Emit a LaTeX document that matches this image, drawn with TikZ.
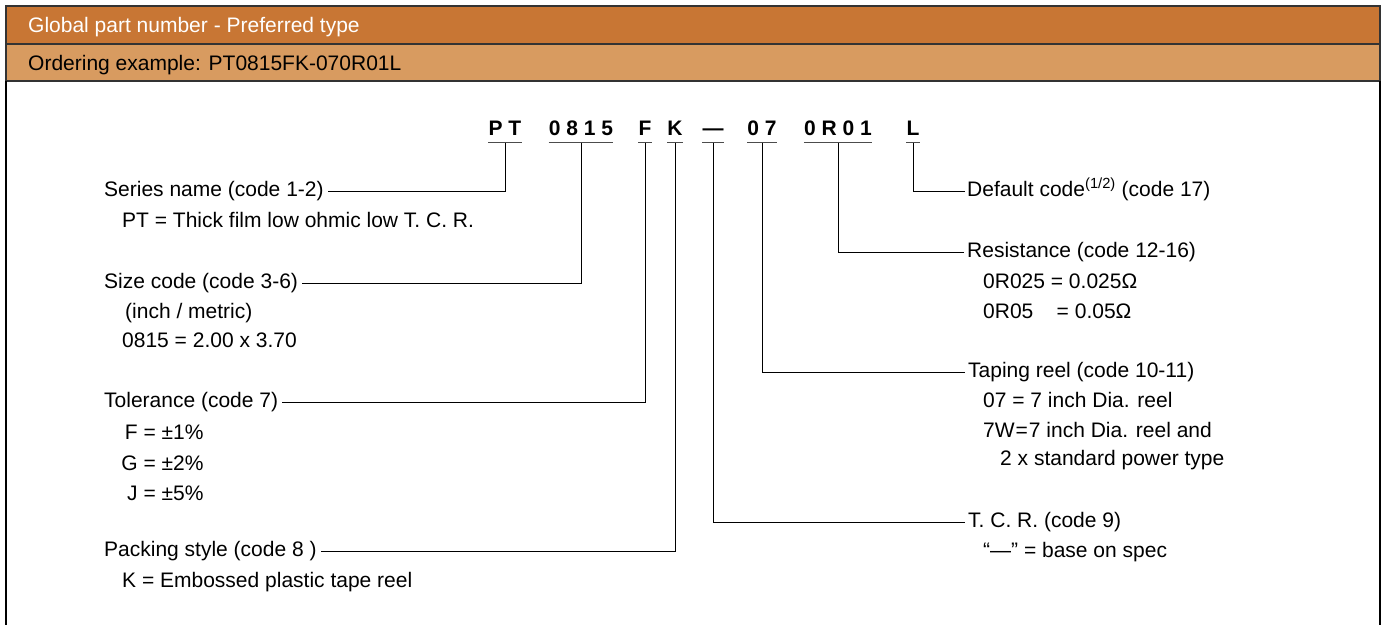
\documentclass[tikz,border=0pt]{standalone}
\usepackage{fontspec}
\setmainfont{Liberation Sans}
\definecolor{hdrdark}{HTML}{C87634}
\definecolor{hdrlight}{HTML}{D89B60}
\definecolor{frame}{HTML}{333333}
\begin{document}
\begin{tikzpicture}[x=1pt,y=-1pt,
  font=\fontsize{21}{25}\selectfont,
  lbl/.style={anchor=base west, inner sep=0pt},
  codebox/.style={anchor=base, inner sep=0pt, font=\fontsize{21}{25}\selectfont\bfseries},
  conn/.style={line width=1pt, draw=black},
  uline/.style={line width=1.3pt, draw=black!70},
  hdrline/.style={line width=1.3pt, draw=frame}
]
\useasboundingbox (0,0) rectangle (1383,624);
% header
\fill[hdrdark] (6,6) rectangle (1380,44);
\fill[hdrlight] (6,44) rectangle (1380,81);
\draw[hdrline] (6,6) rectangle (1380,44);
\draw[hdrline] (6,44) rectangle (1380,81);
\draw[line width=1.3pt] (6,81) -- (6,630);
\draw[line width=1.3pt] (1380,81) -- (1380,630);
\node[lbl, text=white] (title) at (28,32.5) {Global part number - Preferred type};
\node[lbl] (example) at (28,70.5) {Ordering example: PT0815FK-070R01L};

% code groups
\node[codebox] (cPT) at (505,135) {P T};
\node[codebox] (cSize) at (581,135) {0 8 1 5};
\node[codebox] (cF) at (645,135) {F};
\node[codebox] (cK) at (675,135) {K};
\node[codebox] (cT) at (713,135) {—};
\node[codebox] (cReel) at (762,135) {0 7};
\node[codebox] (cRes) at (838,135) {0 R 0 1};
\node[codebox] (cL) at (913,135) {L};
\foreach \c in {cPT,cSize,cF,cK,cT,cReel,cRes,cL}{
  \draw[uline] ([yshift=-7.5pt]\c.base west) -- ([yshift=-7.5pt]\c.base east);
}

% left labels
\node[lbl] (series) at (104,196.5) {Series name (code 1-2)};
\node[lbl] (seriesA) at (122,227.5) {PT = Thick film low ohmic low T. C. R.};
\node[lbl] (size) at (104,288.5) {Size code (code 3-6)};
\node[lbl] (sizeA) at (125,318.5) {(inch / metric)};
\node[lbl] (sizeB) at (122,347.5) {0815 = 2.00 x 3.70};
\node[lbl] (tol) at (104,407.5) {Tolerance (code 7)};
\node[lbl] (tolF) at (121,439.5) {\makebox[16.5pt][r]{F} = ±1\%};
\node[lbl] (tolG) at (121,470.5) {\makebox[16.5pt][r]{G} = ±2\%};
\node[lbl] (tolJ) at (121,500.5) {\makebox[16.5pt][r]{J} = ±5\%};
\node[lbl] (pack) at (104,556.5) {Packing style (code 8 )};
\node[lbl] (packA) at (122,587.5) {K = Embossed plastic tape reel};

% right labels
\node[lbl] (deflt) at (967,196.5) {Default code\textsuperscript{(1/2)} (code 17)};
\node[lbl] (res) at (967,257.5) {Resistance (code 12-16)};
\node[lbl] (resA) at (983,288.5) {0R025 = 0.025Ω};
\node[lbl] (resB) at (983,318.5) {0R05\hphantom{0}\ \ = 0.05Ω};
\node[lbl] (reel) at (968,377.5) {Taping reel (code 10-11)};
\node[lbl] (reelA) at (983,407.5) {07 = 7 inch Dia. reel};
\node[lbl] (reelB) at (983,437.5) {7W\kern1pt=\kern1pt7 inch Dia. reel and};
\node[lbl] (reelC) at (1000,465.5) {2 x standard power type};
\node[lbl] (tcr) at (968,527.5) {T. C. R. (code 9)};
\node[lbl] (tcrA) at (983,557.5) {“—” = base on spec};

% connectors
\draw[conn] ([yshift=-7.5pt]cPT.base) |- ([xshift=4pt,yshift=2pt]series.mid east);
\draw[conn] ([yshift=-7.5pt]cSize.base) |- ([xshift=4pt,yshift=2pt]size.mid east);
\draw[conn] ([yshift=-7.5pt]cF.base) |- ([xshift=4pt,yshift=2pt]tol.mid east);
\draw[conn] ([yshift=-7.5pt]cK.base) |- ([xshift=4pt,yshift=2pt]pack.mid east);
\draw[conn] ([yshift=-7.5pt]cT.base) |- ([xshift=-3pt,yshift=2pt]tcr.mid west);
\draw[conn] ([yshift=-7.5pt]cReel.base) |- ([xshift=-3pt,yshift=2pt]reel.mid west);
\draw[conn] ([yshift=-7.5pt]cRes.base) |- ([xshift=-3pt,yshift=2pt]res.mid west);
\draw[conn] ([yshift=-7.5pt]cL.base) |- ([xshift=-2pt,yshift=2pt]deflt.mid west);
\end{tikzpicture}
\end{document}
